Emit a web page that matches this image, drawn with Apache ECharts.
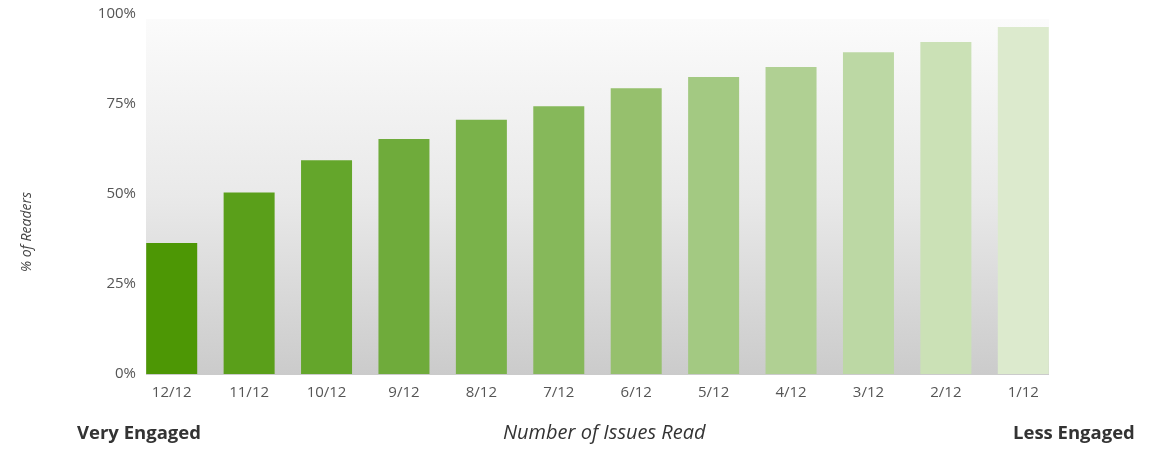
<!DOCTYPE html>
<html>
<head>
<meta charset="utf-8">
<title>Number of Issues Read</title>
<script src="https://cdn.jsdelivr.net/npm/echarts@6/dist/echarts.min.js"></script>
<style>
  html, body { margin: 0; padding: 0; background: #fff; }
  #chart { width: 1165px; height: 451px; }
</style>
</head>
<body>
<div id="chart"></div>
<script>
// issues read, most engaged first
var issues = ['12/12', '11/12', '10/12', '9/12', '8/12', '7/12', '6/12', '5/12', '4/12', '3/12', '2/12', '1/12'];
var readers = [36.4, 50.4, 59.4, 65.3, 70.6, 74.4, 79.4, 82.5, 85.3, 89.4, 92.2, 96.4];
var barColors = ['#4d9705', '#5a9f1a', '#64a62b', '#6fab3b', '#7ab24a', '#86b85a',
                 '#96c06d', '#a3c982', '#b0d093', '#bcd8a4', '#cbe1b6', '#dceacd'];
var yTicks = [0, 25, 50, 75, 100];

var chart = echarts.init(document.getElementById('chart'));

var barData = [];
for (var i = 0; i < readers.length; i++) {
    barData.push({ value: readers[i], itemStyle: { color: barColors[i] } });
}

chart.setOption({
    animation: false,
    textStyle: { fontFamily: 'Open Sans' },
    grid: { left: 133, right: 103, top: 14, bottom: 77 },
    graphic: [
        {   // plot background, white to grey
            type: 'rect', z: -10, silent: true,
            shape: { x: 146, y: 19, width: 903, height: 356 },
            style: {
                fill: new echarts.graphic.LinearGradient(0, 0, 0, 1, [
                    { offset: 0, color: '#fbfbfb' },
                    { offset: 0.5, color: '#e9e9e9' },
                    { offset: 1, color: '#cbcbcb' }
                ])
            }
        },
        {
            type: 'text', left: 77, top: 424,
            style: { text: 'Very Engaged', font: 'bold 18.5px "Open Sans"', fill: '#333' }
        },
        {
            type: 'text', left: 1013, top: 424,
            style: { text: 'Less Engaged', font: 'bold 18.5px "Open Sans"', fill: '#333' }
        },
        {
            type: 'text', left: 503, top: 423,
            style: { text: 'Number of Issues Read', font: 'italic 20px "Open Sans"', fill: '#333' }
        },
        {
            type: 'text', x: 27, y: 232, rotation: Math.PI / 2,
            style: { text: '% of Readers', font: 'italic 14px "Open Sans"', fill: '#444',
                     align: 'center', verticalAlign: 'middle' }
        }
    ],
    xAxis: {
        type: 'category',
        data: issues,
        axisLine: { show: false },
        axisTick: { show: false },
        axisLabel: { color: '#555', fontSize: 15, margin: 11 }
    },
    yAxis: {
        type: 'value',
        min: 0, max: 100, interval: 25,
        offset: -13,
        splitLine: { show: false },
        axisLine: { show: false },
        axisTick: { show: false },
        axisLabel: {
            color: '#555', fontSize: 15, margin: 10,
            formatter: function (v) { return yTicks.indexOf(v) >= 0 ? v + '%' : ''; }
        }
    },
    series: [{
        type: 'bar',
        data: barData,
        barWidth: 51
    }]
});
</script>
</body>
</html>
